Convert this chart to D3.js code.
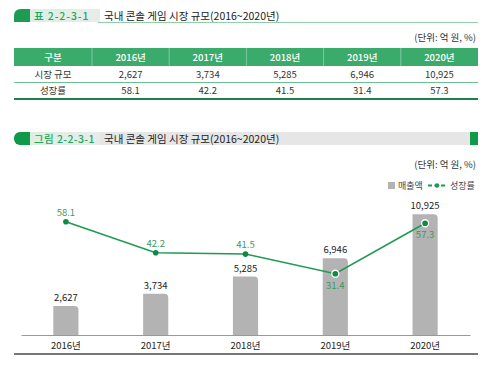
<!DOCTYPE html>
<html>
<head>
<meta charset="utf-8">
<script src="https://cdn.jsdelivr.net/npm/d3@7"></script>
<style>
  body { margin: 0; background: #fff; }
  svg text { font-family: "Noto Sans CJK KR", "Noto Sans", sans-serif; }
</style>
</head>
<body>
<script>
const years = ['2016년', '2017년', '2018년', '2019년', '2020년'];
const sales = [2627, 3734, 5285, 6946, 10925];
const growth = [58.1, 42.2, 41.5, 31.4, 57.3];
const rowLabels = ['시장 규모', '성장률'];
const title = '국내 콘솔 게임 시장 규모(2016~2020년)';
const unitText = '(단위: 억 원, %)';

const W = 500, H = 371;
const green = '#1e9a52';
const svg = d3.select('body').append('svg').attr('width', W).attr('height', H);

const fmt = d3.format(',');

// ---- title bars
function titleTab(y, label, gray, spacing) {
  const g = svg.append('g').attr('transform', 'translate(0,' + y + ')');
  if (gray) {
    g.append('rect').attr('x', 30).attr('y', 0).attr('width', 440).attr('height', 13).attr('fill', '#e6e6e6');
    g.append('rect').attr('x', 470).attr('y', 0).attr('width', 8).attr('height', 13).attr('fill', '#0f9a4a');
    g.append('rect').attr('x', 14).attr('y', 0).attr('width', 16).attr('height', 13).attr('rx', 6).attr('fill', '#0f9a4a');
    g.append('rect').attr('x', 22).attr('y', 0).attr('width', 8).attr('height', 13).attr('fill', '#0f9a4a');
  } else {
    g.append('path').attr('d', 'M14,13 V7 Q14,0 21,0 H30 V13 Z').attr('fill', '#1e9a52');
    g.append('line').attr('x1', 98).attr('x2', 478).attr('y1', 13.5).attr('y2', 13.5)
      .attr('stroke', '#8fd0a8').attr('stroke-width', 1);
  }
  const grad = svg.append('defs').append('linearGradient').attr('id', 'g' + y);
  grad.append('stop').attr('offset', '0').attr('stop-color', '#dcefe2');
  grad.append('stop').attr('offset', '1').attr('stop-color', '#e8ece9');
  g.append('rect').attr('x', 30).attr('y', 0).attr('width', 70).attr('height', 13).attr('fill', 'url(#g' + y + ')');
  g.append('text').attr('x', 34).attr('y', 10.5).attr('font-size', 10.5).attr('font-weight', 500)
    .attr('letter-spacing', spacing).attr('fill', '#27a45c').text(label);
  g.append('text').attr('x', 104).attr('y', 10.5).attr('font-size', 10.5).attr('fill', '#222').text(title);
}

titleTab(9, '표 2-2-3-1', false, 0.9);
titleTab(132, '그림 2-2-3-1', true, 0.4);

svg.append('text').attr('x', 476).attr('y', 41).attr('text-anchor', 'end')
  .attr('font-size', 9.5).attr('fill', '#333').text(unitText);

// ---- table
const cols = ['구분'].concat(years);
const firstW = 78;
const colStart = c => c === '구분' ? 14 : 92 + years.indexOf(c) * 77.2;
const colW = c => c === '구분' ? firstW : 77.2;

const tbl = svg.append('g');
tbl.append('rect').attr('x', 14).attr('y', 48).attr('width', 464).attr('height', 18).attr('fill', '#3bab6c');
cols.forEach((c, i) => {
  if (i > 0) {
    tbl.append('line').attr('x1', colStart(c)).attr('x2', colStart(c)).attr('y1', 48).attr('y2', 66)
      .attr('stroke', '#7fcaa0').attr('stroke-width', 1);
  }
  tbl.append('text').attr('x', colStart(c) + colW(c) / 2).attr('y', 61)
    .attr('text-anchor', 'middle').attr('font-size', 9.5).attr('font-weight', 500)
    .attr('fill', '#fff').text(c);
});
const rows = [sales.map(fmt), growth.map(v => v.toFixed(1))];
rows.forEach((r, ri) => {
  const y = 78 + ri * 16;
  tbl.append('text').attr('x', colStart('구분') + firstW / 2).attr('y', y)
    .attr('text-anchor', 'middle').attr('font-size', 9.5).attr('fill', '#333').text(rowLabels[ri]);
  r.forEach((v, i) => {
    tbl.append('text').attr('x', colStart(years[i]) + 77.2 / 2).attr('y', y)
      .attr('text-anchor', 'middle').attr('font-size', 9.5).attr('fill', '#333').text(v);
  });
});
tbl.append('line').attr('x1', 14).attr('x2', 478).attr('y1', 82.5).attr('y2', 82.5)
  .attr('stroke', '#6cc092').attr('stroke-width', 1);
tbl.append('line').attr('x1', 14).attr('x2', 478).attr('y1', 99).attr('y2', 99)
  .attr('stroke', '#1f7f4a').attr('stroke-width', 2);

// ---- chart
svg.append('text').attr('x', 476).attr('y', 168).attr('text-anchor', 'end')
  .attr('font-size', 9.5).attr('fill', '#333').text(unitText);

// legend
const lg = svg.append('g');
lg.append('rect').attr('x', 388).attr('y', 182).attr('width', 7).attr('height', 7).attr('fill', '#b3b3b3');
lg.append('text').attr('x', 398).attr('y', 189).attr('font-size', 9).attr('fill', '#444').text('매출액');
lg.append('line').attr('x1', 428).attr('x2', 446).attr('y1', 185.5).attr('y2', 185.5)
  .attr('stroke', green).attr('stroke-width', 1.8).attr('stroke-dasharray', '4,2.5');
lg.append('circle').attr('cx', 437).attr('cy', 185.5).attr('r', 2.3).attr('fill', green);
lg.append('text').attr('x', 450).attr('y', 189).attr('font-size', 9).attr('fill', '#444').text('성장률');

const x = d3.scaleBand().domain(years).range([21, 470]).paddingInner(0.72).paddingOuter(0.36);
const yBar = d3.scaleLinear().domain([0, 12000]).range([335, 202.4]);
const yLine = d3.scaleLinear().domain([0, 60]).range([335, 218]);

const bw = x.bandwidth(), r = 4;
svg.append('g').selectAll('path').data(sales).join('path')
  .attr('d', (d, i) => {
    const x0 = x(years[i]), x1 = x0 + bw, y0 = yBar(d), yb = yBar(0);
    return `M${x0},${yb} V${y0} H${x1 - r} Q${x1},${y0} ${x1},${y0 + r} V${yb} Z`;
  })
  .attr('fill', '#b3b3b3');

svg.append('g').selectAll('text').data(sales).join('text')
  .attr('x', (d, i) => x(years[i]) + bw / 2)
  .attr('y', d => yBar(d) - 5)
  .attr('text-anchor', 'middle').attr('font-size', 9.5).attr('fill', '#222')
  .text(d => fmt(d));

// axis
const axis = svg.append('g').attr('transform', 'translate(0,335)')
  .call(d3.axisBottom(x).tickSize(0).tickPadding(7));
axis.select('.domain').attr('stroke', '#999').attr('stroke-width', 1.2);
axis.selectAll('text').attr('font-size', 9.5).attr('fill', '#222')
  .attr('font-family', '"Noto Sans CJK KR", sans-serif');

svg.append('line').attr('x1', 14).attr('x2', 478).attr('y1', 354).attr('y2', 354)
  .attr('stroke', '#777').attr('stroke-width', 2);

// line
const line = d3.line().x((d, i) => x(years[i]) + bw / 2).y(d => yLine(d));
svg.append('path').datum(growth).attr('d', line).attr('fill', 'none')
  .attr('stroke', green).attr('stroke-width', 1.6);

svg.append('g').selectAll('circle').data(growth).join('circle')
  .attr('cx', (d, i) => x(years[i]) + bw / 2)
  .attr('cy', d => yLine(d))
  .attr('r', (d, i) => i >= 3 ? 3.5 : 2.8)
  .attr('fill', '#0f8a45')
  .attr('stroke', (d, i) => i >= 3 ? '#fff' : 'none')
  .attr('stroke-width', 1.3);

svg.append('g').selectAll('text').data(growth).join('text')
  .attr('x', (d, i) => x(years[i]) + bw / 2)
  .attr('y', (d, i) => i >= 3 ? yLine(d) + 15 : yLine(d) - 6)
  .attr('text-anchor', 'middle').attr('font-size', 9.5).attr('fill', '#3a9a5c')
  .text(d => d.toFixed(1));
</script>
</body>
</html>
